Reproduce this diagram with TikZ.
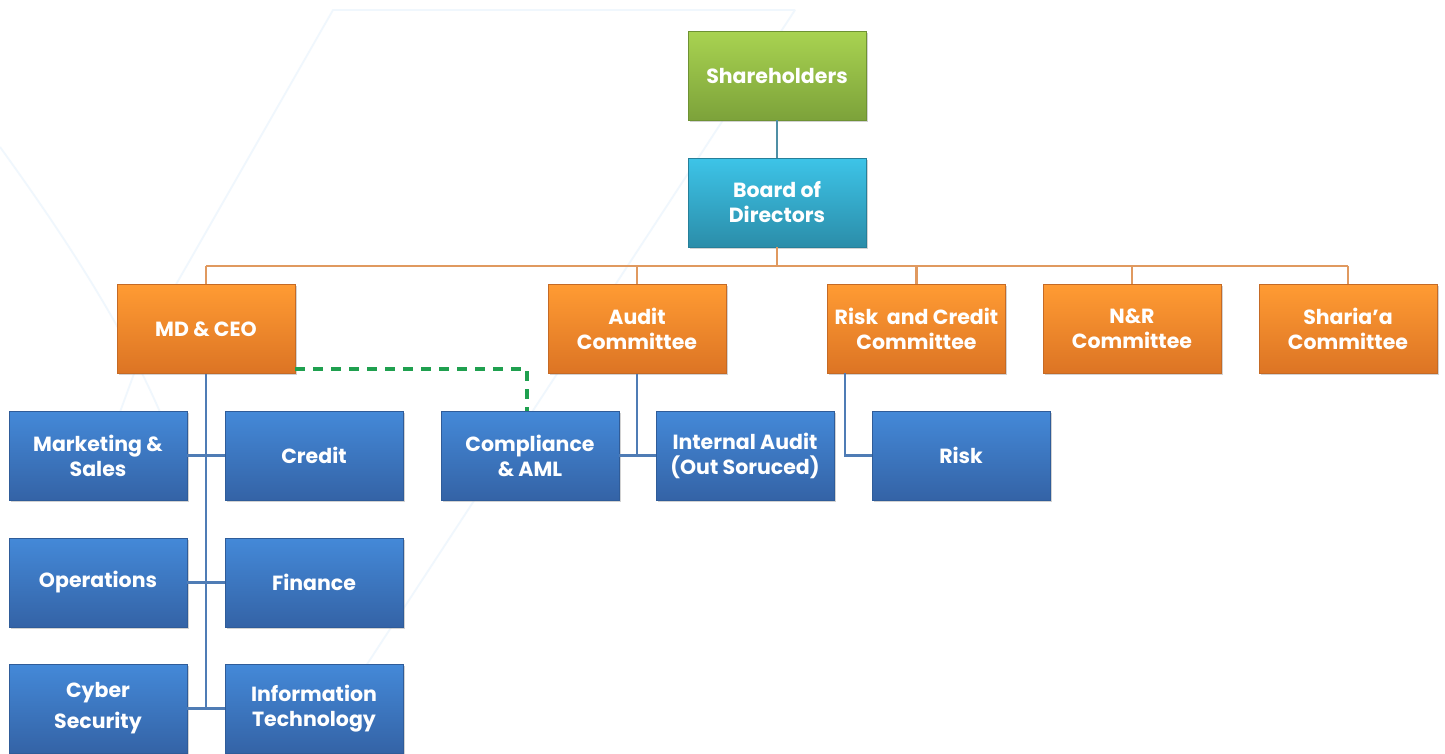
\documentclass[tikz,border=0pt]{standalone}
\usepackage{fontspec}
\setmainfont{Poppins}
\usetikzlibrary{shadows}
\definecolor{orTop}{HTML}{FF9B33}
\definecolor{orBot}{HTML}{DC7424}
\definecolor{orDraw}{HTML}{C56A25}
\definecolor{blTop}{HTML}{4489D8}
\definecolor{blBot}{HTML}{3463A6}
\definecolor{blDraw}{HTML}{2F5C99}
\definecolor{grTop}{HTML}{A9D351}
\definecolor{grBot}{HTML}{7CA23A}
\definecolor{grDraw}{HTML}{6E9233}
\definecolor{cyTop}{HTML}{3DC4E8}
\definecolor{cyBot}{HTML}{2B8DA9}
\definecolor{cyDraw}{HTML}{267F99}
\definecolor{lnOr}{HTML}{E0995F}
\definecolor{lnBl}{HTML}{4F7CB5}
\definecolor{lnTe}{HTML}{4F8FA5}
\definecolor{lnGr}{HTML}{1FA04F}
\definecolor{bgLine}{HTML}{F0F7FD}
\tikzset{
  box/.style={rectangle, minimum width=178pt, minimum height=89pt, inner sep=2pt,
    align=center, text=white, font=\fontsize{20.5}{25}\selectfont\bfseries,
    line width=0.8pt,
    drop shadow={opacity=0.35, shadow xshift=1.5pt, shadow yshift=-1.5pt}},
  obox/.style={box, top color=orTop, bottom color=orBot, draw=orDraw},
  bbox/.style={box, top color=blTop, bottom color=blBot, draw=blDraw},
  gbox/.style={box, top color=grTop, bottom color=grBot, draw=grDraw},
  cbox/.style={box, top color=cyTop, bottom color=cyBot, draw=cyDraw},
  orline/.style={draw=lnOr, line width=2.3pt},
  blline/.style={draw=lnBl, line width=2.3pt},
  teline/.style={draw=lnTe, line width=2.3pt},
  dashline/.style={draw=lnGr, line width=3.5pt, dash pattern=on 10pt off 8pt},
  bgl/.style={draw=bgLine, line width=1.8pt}
}
\begin{document}
\begin{tikzpicture}[x=1pt,y=-1pt]
\useasboundingbox[fill=white] (0,0) rectangle (1445,753);
% faint background lines
\draw[bgl] (795,10) -- (333,10) -- (150,330);
\draw[bgl] (795,10) -- (360,675);
\draw[bgl] (0,147) .. controls (60,230) and (120,320) .. (160,412);
\draw[bgl] (150,330) -- (120,412);
% nodes
\node[gbox] (sh) at (777,75.5) {Shareholders};
\node[cbox] (bod) at (777,202.5) {Board of\\Directors};
\node[obox] (ceo) at (206,329) {MD \& CEO};
\node[obox] (audit) at (637,329) {Audit\\Committee};
\node[obox] (riskc) at (916.5,329) {Risk~ and Credit\\Committee};
\node[obox] (nr) at (1132,329) {N\&R\\Committee};
\node[obox] (sharia) at (1348,329) {Sharia’a\\Committee};
\node[bbox] (mkt) at (98,455.5) {Marketing \&\\Sales};
\node[bbox] (credit) at (314,455.5) {Credit};
\node[bbox] (comp) at (530,455.5) {Compliance\\\& AML};
\node[bbox] (ia) at (745,455.5) {Internal Audit\\(Out Soruced)};
\node[bbox] (risk) at (961,455.5) {Risk};
\node[bbox] (ops) at (98,582.5) {Operations};
\node[bbox] (fin) at (314,582.5) {Finance};
\node[bbox, font=\fontsize{20.5}{31}\selectfont\bfseries] (cyber) at (98,708.5) {Cyber\\Security};
\node[bbox] (it) at (314,708.5) {Information\\Technology};
% coordinates
\coordinate (busL) at (206,266);
\coordinate (busR) at (1348,266);
\coordinate (rcx) at (845,373);
\coordinate (dashEnd) at (527,411);
% connectors
\draw[teline] (sh.south) -- (bod.north);
\draw[orline] (busL) -- (busR);
\draw[orline] (bod.south) -- (bod.south |- busL);
\foreach \n in {ceo,audit,riskc,nr,sharia}{
  \draw[orline] (\n.north) -- (\n.north |- busL);
}
\draw[blline] (ceo.south) -- (ceo.south |- it.west);
\draw[blline] (mkt.east) -- (credit.west);
\draw[blline] (ops.east) -- (fin.west);
\draw[blline] (cyber.east) -- (it.west);
\draw[blline] (audit.south) -- (audit.south |- comp.east);
\draw[blline] (comp.east) -- (ia.west);
\draw[blline] (rcx) |- (risk.west);
\draw[dashline] ([yshift=5pt]ceo.south east) -| (dashEnd);
\end{tikzpicture}
\end{document}
